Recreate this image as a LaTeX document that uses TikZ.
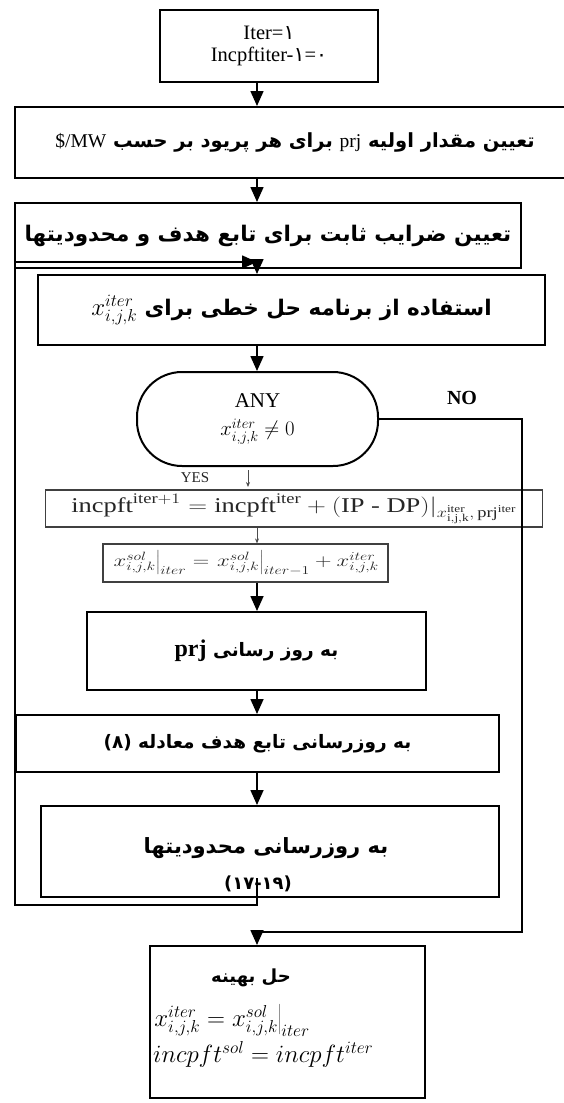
\documentclass[tikz,border=0pt]{standalone}
\usepackage{fontspec}
\setmainfont{Liberation Serif}
\newfontfamily\persfont[Script=Arabic]{DejaVu Sans}
\TeXXeTstate=1
\usetikzlibrary{arrows.meta}
\tikzset{
  stepbox/.style={draw,line width=2pt,inner sep=3pt},
  flow/.style={line width=1.6pt,-{Triangle[length=15pt,width=13pt]}},
  scan/.style={draw=black!75,line width=1.2pt,inner sep=2pt,text=black!85},
  tick/.style={line width=0.8pt,black!70,-{Stealth[length=5pt,width=4pt]}},
  fatext/.style={font=\persfont\bfseries\fontsize{#1}{#1}\selectfont},
  fatext/.default=18
}
\begin{document}
\begin{tikzpicture}[x=1pt,y=-1pt]
\useasboundingbox (0,0) rectangle (563,1103);
\coordinate (axis) at (257,0);
% main column
\node[stepbox,minimum width=218pt,minimum height=72pt,align=center,font=\fontsize{20.5}{22}\selectfont] (start) at (269,46) {Iter={\persfont ۱}\\Incpftiter-{\persfont ۱}={\persfont ۰}};
\node[stepbox,fatext=19.5,minimum width=560pt,minimum height=71pt] (init) at (295,142.5) {\beginR تعیین مقدار اولیه {\rmfamily\mdseries\beginL prj\endL} برای هر پریود بر حسب {\rmfamily\mdseries\beginL\$/MW\endL}\endR};
\node[stepbox,fatext=21.5,minimum width=506pt,minimum height=65pt] (coef) at (268,235.5) {\beginR تعیین ضرایب ثابت برای تابع هدف و محدودیتها\endR};
\node[stepbox,fatext=21.5,minimum width=507pt,minimum height=70pt] (lp) at (291.5,310) {\beginR استفاده از برنامه حل خطی برای {\rmfamily\mdseries\fontsize{26}{28}\selectfont\beginL$x^{iter}_{i,j,k}$\endL}\endR};
\node[stepbox,rounded corners=45pt,minimum width=241pt,minimum height=94pt,align=center,font=\fontsize{21}{28}\selectfont] (check) at (257.5,419) {ANY\\$x^{iter}_{i,j,k}\neq 0$};
\node[font=\bfseries\fontsize{20}{22}\selectfont] (no) at (462,398) {NO};
\node[font=\fontsize{15}{16}\selectfont,text=black!85] (yes) at (195,478) {YES};
\node[scan,minimum width=497pt,minimum height=37pt,font=\fontsize{21}{22}\selectfont] (incpft) at (294,508.5) {\scalebox{1.26}[1]{$\mathrm{incpft}^{\mathrm{iter}+1}=\mathrm{incpft}^{\mathrm{iter}}+(\mathrm{IP}\ \mbox{-}\ \mathrm{DP})|_{x^{\mathrm{iter}}_{\mathrm{i,j,k}},\,\mathrm{prj}^{\mathrm{iter}}}$}};
\node[scan,minimum width=285pt,minimum height=38pt,font=\fontsize{18}{20}\selectfont] (sol) at (245.5,563) {\scalebox{1.32}[1]{$\left.x^{sol}_{i,j,k}\right|_{iter}=\left.x^{sol}_{i,j,k}\right|_{iter-1}+x^{iter}_{i,j,k}$}};
\node[stepbox,fatext=18.5,minimum width=339pt,minimum height=78pt] (upprj) at (256.5,651) {\beginR به روز رسانی {\rmfamily\bfseries\fontsize{24}{24}\selectfont\beginL prj\endL}\endR};
\node[stepbox,fatext=18.5,minimum width=483pt,minimum height=57pt] (upobj) at (257.5,743.5) {\beginR به روزرسانی تابع هدف معادله \beginL(۸)\endL\endR};
\node[stepbox,minimum width=458pt,minimum height=91pt] (upcons) at (270,851.5) {};
\node[fatext=21] (upconsa) at (266,848) {\beginR به روزرسانی محدودیتها\endR};
\node[fatext] (upconsb) at (258,884) {(۱۷-۱۹)};
\node[stepbox,minimum width=275pt,minimum height=152pt] (final) at (287.5,1022) {};
\node[fatext] (finaltitle) at (251,978) {\beginR حل بهینه\endR};
\node[anchor=west,align=left,inner sep=0pt,font=\fontsize{23}{36}\selectfont] (finaleq) at (153,1036) {$\left.x^{iter}_{i,j,k}=x^{sol}_{i,j,k}\right|_{iter}$\\$incpft^{sol}=incpft^{iter}$};
% arrows
\draw[flow] (start.south -| axis) -- (init.north -| axis);
\draw[flow] (init.south -| axis) -- (coef.north -| axis);
\draw[flow] (coef.south -| axis) -- (lp.north -| axis);
\draw[flow] (lp.south -| axis) -- (check.north -| axis);
\draw[flow] (sol.south -| axis) -- (upprj.north -| axis);
\draw[flow] (upprj.south -| axis) -- (upobj.north -| axis);
\draw[flow] (upobj.south -| axis) -- (upcons.north -| axis);
\coordinate (yesup) at (248,470);\coordinate (yesdn) at (248,487);
\draw[tick] (yesup) -- (yesdn);
\draw[tick] (incpft.south -| axis) -- (sol.north -| axis);
% loop back and exit
\coordinate (loopin) at (257,878);\coordinate (loopback) at (257,262);\coordinate (noturn) at (522,932);
\draw[flow] (loopin) |- (15,905) |- (loopback);
\draw[flow] (check.east) -| (noturn) -| (final.north -| axis);
\end{tikzpicture}
\end{document}
